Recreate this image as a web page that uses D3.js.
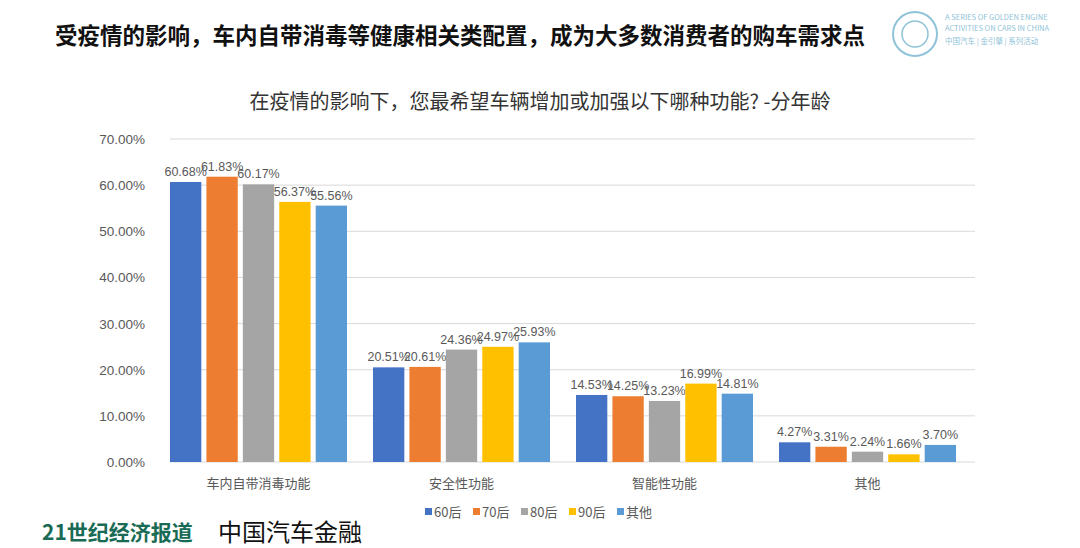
<!DOCTYPE html><html><head><meta charset="utf-8"><script src="https://cdn.jsdelivr.net/npm/d3@7"></script>
<style>body{margin:0;background:#fff}text{font-family:"Noto Sans CJK SC","Noto Sans",sans-serif}.n{font-family:"Liberation Sans",Arial,sans-serif}</style></head><body>
<svg id="c" width="1080" height="548"></svg>
<script>
const categories=["车内自带消毒功能","安全性功能","智能性功能","其他"];
const seriesNames=["60后","70后","80后","90后","其他"];
const s60=[60.68,20.51,14.53,4.27];
const s70=[61.83,20.61,14.25,3.31];
const s80=[60.17,24.36,13.23,2.24];
const s90=[56.37,24.97,16.99,1.66];
const sOther=[55.56,25.93,14.81,3.70];
const yTicks=[0,10,20,30,40,50,60,70];
const colors=["#4472c4","#ed7d31","#a5a5a5","#ffc000","#5b9bd5"];
const series=[s60,s70,s80,s90,sOther];
const svg=d3.select("#c");
svg.append("text").attr("x",55).attr("y",44).attr("font-size",22.5).attr("font-weight","bold").attr("fill","#111").text("受疫情的影响，车内自带消毒等健康相关类配置，成为大多数消费者的购车需求点");
const lg=svg.append("g").attr("stroke","#8fc3d8").attr("fill","none");
lg.append("circle").attr("cx",915).attr("cy",34).attr("r",22).attr("stroke-width",2);
lg.append("circle").attr("cx",915).attr("cy",34).attr("r",13).attr("stroke-width",1.5);
[["A SERIES OF GOLDEN ENGINE",20],["ACTIVITIES ON CARS IN CHINA",31],["中国汽车 | 金引擎 | 系列活动",44]].forEach(d=>svg.append("text").attr("x",945).attr("y",d[1]).attr("font-size",7.5).attr("fill","#8fc3d8").text(d[0]));
svg.append("text").attr("x",540).attr("y",109).attr("text-anchor","middle").attr("font-size",20).attr("fill","#333").text("在疫情的影响下，您最希望车辆增加或加强以下哪种功能? -分年龄");
const y=d3.scaleLinear().domain([0,70]).range([462,139]);
const x0=d3.scaleBand().domain(categories).range([170,982]);
const x1=d3.scaleBand().domain(d3.range(5)).range([0,177]).paddingInner(0.14).paddingOuter(0);
yTicks.forEach(t=>{svg.append("line").attr("x1",170).attr("x2",975).attr("y1",y(t)).attr("y2",y(t)).attr("stroke","#d9d9d9");
svg.append("text").attr("class","n").attr("x",145).attr("y",y(t)+5).attr("text-anchor","end").attr("font-size",13.5).attr("fill","#595959").text(t.toFixed(2)+"%");});
categories.forEach((c,i)=>{
 svg.append("text").attr("x",x0(c)+88.5).attr("y",488).attr("text-anchor","middle").attr("font-size",13).attr("fill","#595959").text(c);
 series.forEach((s,j)=>{const bx=x0(c)+x1(j);
  svg.append("rect").attr("x",bx).attr("y",y(s[i])).attr("width",x1.bandwidth()).attr("height",462-y(s[i])).attr("fill",colors[j]);
  svg.append("text").attr("class","n").attr("x",bx+x1.bandwidth()/2).attr("y",y(s[i])-6).attr("text-anchor","middle").attr("font-size",12.5).attr("fill","#595959").text(s[i].toFixed(2)+"%");
 });
});
let lx=425;
seriesNames.forEach((n,j)=>{svg.append("rect").attr("x",lx).attr("y",508).attr("width",7).attr("height",7).attr("fill",colors[j]);
 svg.append("text").attr("x",lx+9).attr("y",517).attr("font-size",13).attr("fill","#595959").text(n);lx+=48;});
svg.append("text").attr("x",42).attr("y",540).attr("font-size",21).attr("font-weight","bold").attr("fill","#1a6b55").text("21世纪经济报道");
svg.append("text").attr("x",218).attr("y",541).attr("font-size",24).attr("fill","#111").text("中国汽车金融");
</script></body></html>
